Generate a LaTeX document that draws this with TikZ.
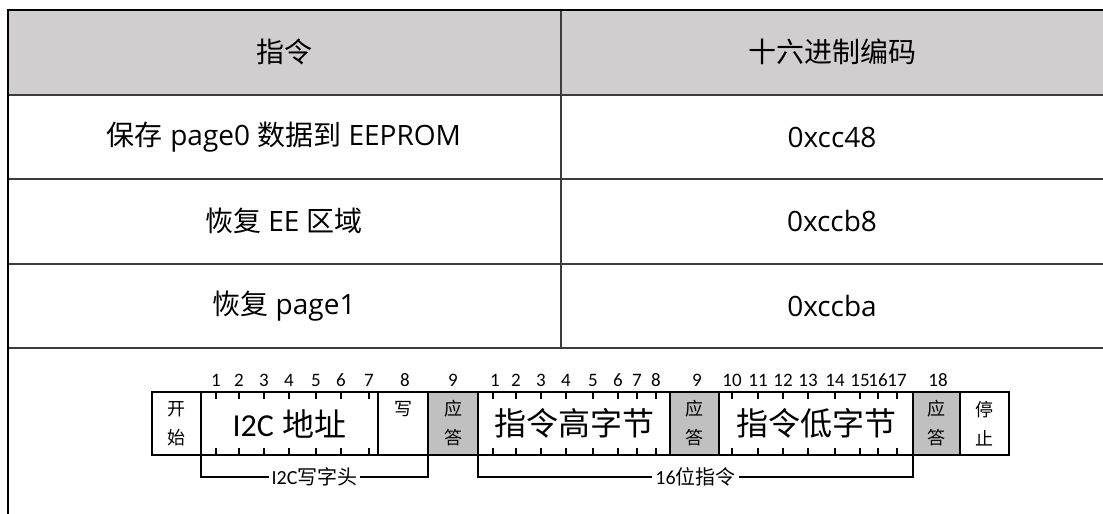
\documentclass[tikz,border=0pt]{standalone}
\usepackage{fontspec}
\setmainfont{Open Sans}
\newfontfamily\zh{Noto Sans CJK SC}
\newfontfamily\cali{Carlito}
\usetikzlibrary{positioning}
\definecolor{hdgray}{RGB}{208,206,206}
\definecolor{ackgray}{RGB}{192,192,192}
\definecolor{rulegray}{RGB}{60,60,60}

\begin{document}
\begin{tikzpicture}[x=1pt,y=-1pt,
  cell/.style={font=\fontsize{28}{28}\selectfont},
  fld/.style={draw,line width=2pt,minimum height=63pt,inner sep=0pt,outer sep=0pt,
    align=center,font=\zh\fontsize{18}{29}\selectfont},
  ackfld/.style={fld,fill=ackgray},
  big/.style={font=\fontsize{32}{32}\selectfont},
  num/.style={font=\cali\fontsize{19}{19}\selectfont},
  tickln/.style={line width=1.6pt},
  brk/.style={line width=2pt},
  brklabel/.style={fill=white,inner sep=3pt,font=\fontsize{20}{20}\selectfont}]
  \useasboundingbox (0,0) rectangle (1103,514);
  \fill[hdgray] (8,10) rectangle (1103,95);
  \draw[rulegray,line width=1.6pt] (8,95) -- (1103,95);
  \draw[rulegray,line width=1.2pt] (8,179) -- (1103,179) (8,264) -- (1103,264)
    (8,348) -- (1103,348) (561,10) -- (561,348);
  \draw[line width=2.5pt] (8,514) -- (8,10) -- (1103,10);
  \node[cell] (h1) at (284,52) {\zh 指令};
  \node[cell] (h2) at (832,52) {\zh 十六进制编码};
  \node[cell] (r1a) at (284,137) {{\zh 保存} page0 {\zh 数据到} EEPROM};
  \node[cell] (r1b) at (832,137) {0xcc48};
  \node[cell] (r2a) at (284,221) {{\zh 恢复} EE {\zh 区域}};
  \node[cell] (r2b) at (832,221) {0xccb8};
  \node[cell] (r3a) at (284,306) {{\zh 恢复} page1};
  \node[cell] (r3b) at (832,306) {0xccba};
  \node[fld,minimum width=49pt,anchor=north west] (st) at (152,392) {开\\始};
  \node[fld,minimum width=177pt,right=0pt of st,big] (addr) {{\cali I2C} {\zh 地址}};
  \node[fld,minimum width=50pt,right=0pt of addr] (wr) {写\\\phantom{写}};
  \node[ackfld,minimum width=50pt,right=0pt of wr] (ack1) {应\\答};
  \node[fld,minimum width=192pt,right=0pt of ack1,big] (hi) {\zh 指令高字节};
  \node[ackfld,minimum width=49pt,right=0pt of hi] (ack2) {应\\答};
  \node[fld,minimum width=194pt,right=0pt of ack2,big] (lo) {\zh 指令低字节};
  \node[ackfld,minimum width=47pt,right=0pt of lo] (ack3) {应\\答};
  \node[fld,minimum width=49pt,right=0pt of ack3] (sp) {停\\止};
  \foreach \x in {216,239,264,289,316,341,369,493,516,541,566,593,618,637,656,
    732,758,783,808,835,860,878,897}
    \draw[tickln] (\x,392) -- ++(0,7) (\x,455) -- ++(0,-7);
  \foreach \x/\n [count=\i] in {216/1,239/2,264/3,289/4,316/5,341/6,369/7,405/8,453/9,
    495/1,516/2,541/3,566/4,593/5,618/6,637/7,656/8,697/9,
    732/10,758/11,783/12,808/13,835/14,860/15,878/16,897/17,938/18}
    \node[num] (n\i) at (\x,380) {\n};
  \draw[brk] (addr.south west) -- ++(0,22) -| (wr.south east)
    node[brklabel,pos=0.25] (hd) {{\cali I2C}\zh 写字头};
  \draw[brk] (hi.south west) -- ++(0,22) -| (lo.south east)
    node[brklabel,pos=0.25] (cmd) {{\cali 16}\zh 位指令};
\end{tikzpicture}
\end{document}
